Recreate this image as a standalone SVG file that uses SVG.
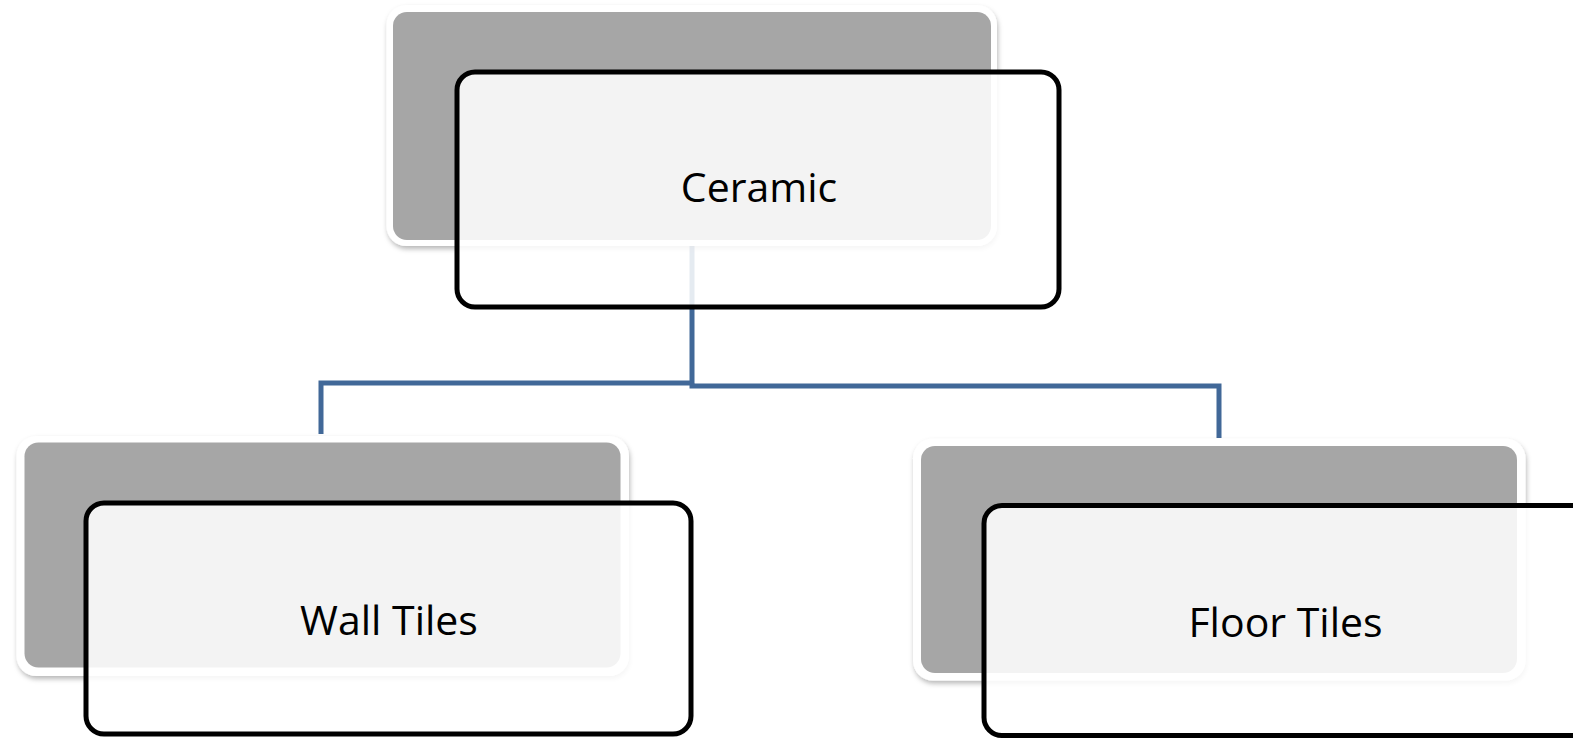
<svg xmlns="http://www.w3.org/2000/svg" width="1573" height="738" viewBox="0 0 1573 738">
  <defs>
    <filter id="sh" x="-5%" y="-5%" width="110%" height="115%">
      <feDropShadow dx="1" dy="3" stdDeviation="2.5" flood-color="#000" flood-opacity="0.28"/>
    </filter>
  </defs>
  <style>
    .frame { fill: #ffffff; filter: url(#sh); }
    .back { fill: #a6a6a6; }
    .front { fill: #ffffff; fill-opacity: 0.865; stroke: #000000; stroke-width: 5; }
    .label { font-family: "Open Sans", "Noto Sans", sans-serif; font-size: 41px; fill: #000000; text-anchor: middle; }
    .conn { fill: none; stroke: #416898; stroke-width: 5; }
  </style>
  <rect width="1573" height="738" fill="#ffffff"/>
  <g id="connectors">
    <path class="conn" d="M692,240 V383.5"/>
    <path class="conn" d="M321,434 V383 H692"/>
    <path class="conn" d="M692,383 V386 H1219 V438"/>
  </g>
  <g id="node-ceramic">
    <rect class="frame" x="386.5" y="5" width="610.5" height="241" rx="20"/>
    <rect class="back" x="393" y="12" width="598" height="228" rx="14"/>
    <rect class="front" x="457" y="72" width="602" height="235" rx="18"/>
    <text class="label" x="759" y="201.5">Ceramic</text>
  </g>
  <g id="node-wall-tiles">
    <rect class="frame" x="16.5" y="436" width="612.5" height="240" rx="20"/>
    <rect class="back" x="24.5" y="442.5" width="596" height="225" rx="14"/>
    <rect class="front" x="86" y="503" width="605" height="231" rx="18"/>
    <text class="label" x="389" y="634.5">Wall Tiles</text>
  </g>
  <g id="node-floor-tiles">
    <rect class="frame" x="913" y="438.5" width="612.5" height="242" rx="20"/>
    <rect class="back" x="921" y="446" width="596" height="227" rx="14"/>
    <rect class="front" x="984" y="505.5" width="605" height="230" rx="18"/>
    <text class="label" x="1285.5" y="636.5">Floor Tiles</text>
  </g>
</svg>
